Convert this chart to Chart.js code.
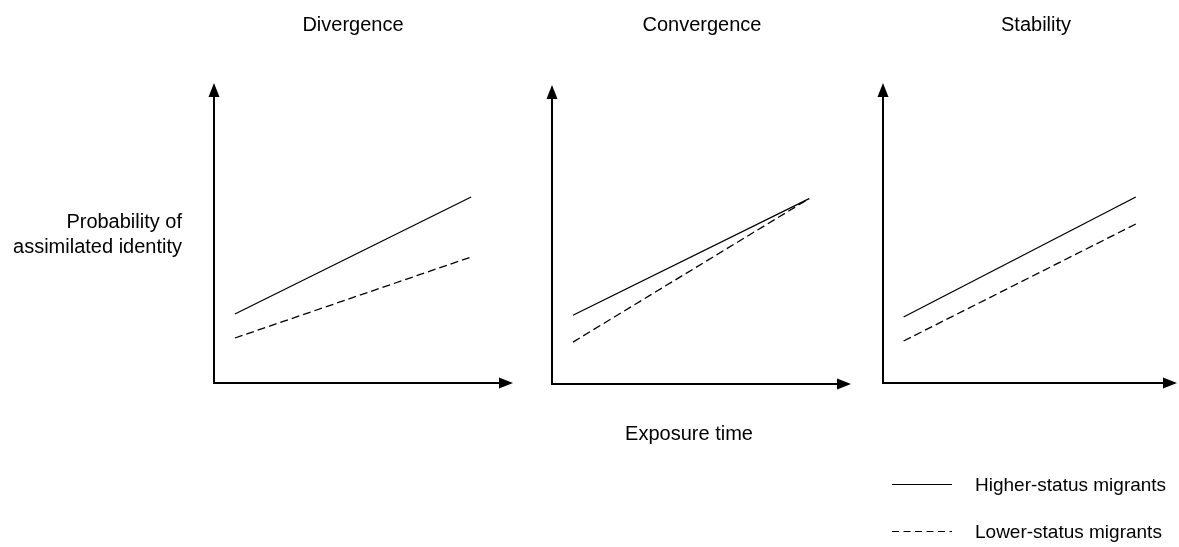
<!DOCTYPE html>
<html>
<head>
<meta charset="utf-8">
<script src="https://cdn.jsdelivr.net/npm/chart.js@4"></script>
<style>
  body { margin: 0; background: #fff; }
  #wrap { position: relative; width: 1179px; height: 547px; overflow: hidden; font-family: "Liberation Sans", Arial, sans-serif; color: #000; }
  canvas { position: absolute; left: 0; top: 0; }
  .lbl { position: absolute; font-size: 20px; line-height: 20px; white-space: nowrap; }
  .ctr { transform: translateX(-50%); }
  .leg { position: absolute; font-size: 19px; line-height: 19px; white-space: nowrap; }
</style>
</head>
<body>
<div id="wrap">
  <canvas id="c1" width="1179" height="547"></canvas>
  <canvas id="c2" width="1179" height="547"></canvas>
  <canvas id="c3" width="1179" height="547"></canvas>

  <div class="lbl ctr" style="left:353px; top:14px;">Divergence</div>
  <div class="lbl ctr" style="left:702px; top:14px;">Convergence</div>
  <div class="lbl ctr" style="left:1036px; top:14px;">Stability</div>
  <div class="lbl" style="right:997px; top:209px; line-height:25px; text-align:right;">Probability of<br>assimilated identity</div>
  <div class="lbl ctr" style="left:689px; top:423px;">Exposure time</div>
  <div class="leg" style="left:975px; top:475px;">Higher-status migrants</div>
  <div class="leg" style="left:975px; top:522px;">Lower-status migrants</div>
</div>

<script>
// valores (escala 0-100 en cada panel)
const tiempo = [7, 86];
const divergenciaAlto = [23, 62];
const divergenciaBajo = [15, 42];
const convergenciaAlto = [23, 62];
const convergenciaBajo = [14, 62];
const estabilidadAlto = [22, 62];
const estabilidadBajo = [14, 53];

const nombres = ["Higher-status migrants", "Lower-status migrants"];

const puntos = (ys) => tiempo.map((x, i) => ({ x: x, y: ys[i] }));

// dibuja los ejes con flechas
const ejesFlecha = {
  id: "ejesFlecha",
  beforeDatasetsDraw(chart) {
    const { ctx, chartArea: a } = chart;
    const L = 14, W = 5.5;
    ctx.save();
    ctx.strokeStyle = "#000";
    ctx.fillStyle = "#000";
    ctx.lineWidth = 2;
    ctx.beginPath();
    ctx.moveTo(a.left, a.top + L - 1);
    ctx.lineTo(a.left, a.bottom);
    ctx.lineTo(a.right - L + 1, a.bottom);
    ctx.stroke();
    // flecha vertical
    ctx.beginPath();
    ctx.moveTo(a.left, a.top);
    ctx.lineTo(a.left - W, a.top + L);
    ctx.lineTo(a.left + W, a.top + L);
    ctx.closePath();
    ctx.fill();
    // flecha horizontal
    ctx.beginPath();
    ctx.moveTo(a.right, a.bottom);
    ctx.lineTo(a.right - L, a.bottom - W);
    ctx.lineTo(a.right - L, a.bottom + W);
    ctx.closePath();
    ctx.fill();
    ctx.restore();
  },
};

// leyenda: solo las muestras de línea, el texto va en HTML
const leyendaLineas = {
  id: "leyendaLineas",
  afterDraw(chart) {
    const ctx = chart.ctx;
    const filas = [484, 531];
    ctx.save();
    chart.data.datasets.forEach((ds, i) => {
      ctx.strokeStyle = ds.borderColor;
      ctx.lineWidth = 1.1;
      ctx.setLineDash(i === 0 ? [] : [7, 4.5]);
      ctx.beginPath();
      ctx.moveTo(892, filas[i] + 0.5);
      ctx.lineTo(952, filas[i] + 0.5);
      ctx.stroke();
    });
    ctx.restore();
  },
};

const crearPanel = (id, alto, bajo, padding, extras) => {
  const ctx = document.getElementById(id).getContext("2d");
  new Chart(ctx, {
    type: "line",
    data: {
      datasets: [
        {
          label: nombres[0],
          data: puntos(alto),
          borderColor: "#000",
          borderWidth: 1.3,
          pointRadius: 0,
        },
        {
          label: nombres[1],
          data: puntos(bajo),
          borderColor: "#000",
          borderWidth: 1.3,
          borderDash: [8, 4],
          pointRadius: 0,
        },
      ],
    },
    options: {
      responsive: false,
      animation: false,
      layout: { padding: padding },
      plugins: { legend: { display: false }, tooltip: { enabled: false } },
      scales: {
        x: { type: "linear", min: 0, max: 100, display: false },
        y: { type: "linear", min: 0, max: 100, display: false },
      },
    },
    plugins: [ejesFlecha].concat(extras || []),
  });
};

crearPanel("c1", divergenciaAlto, divergenciaBajo, { left: 214, right: 666, top: 83, bottom: 164 });
crearPanel("c2", convergenciaAlto, convergenciaBajo, { left: 552, right: 328, top: 85, bottom: 163 });
crearPanel("c3", estabilidadAlto, estabilidadBajo, { left: 883, right: 2, top: 83, bottom: 164 }, [leyendaLineas]);
</script>
</body>
</html>
